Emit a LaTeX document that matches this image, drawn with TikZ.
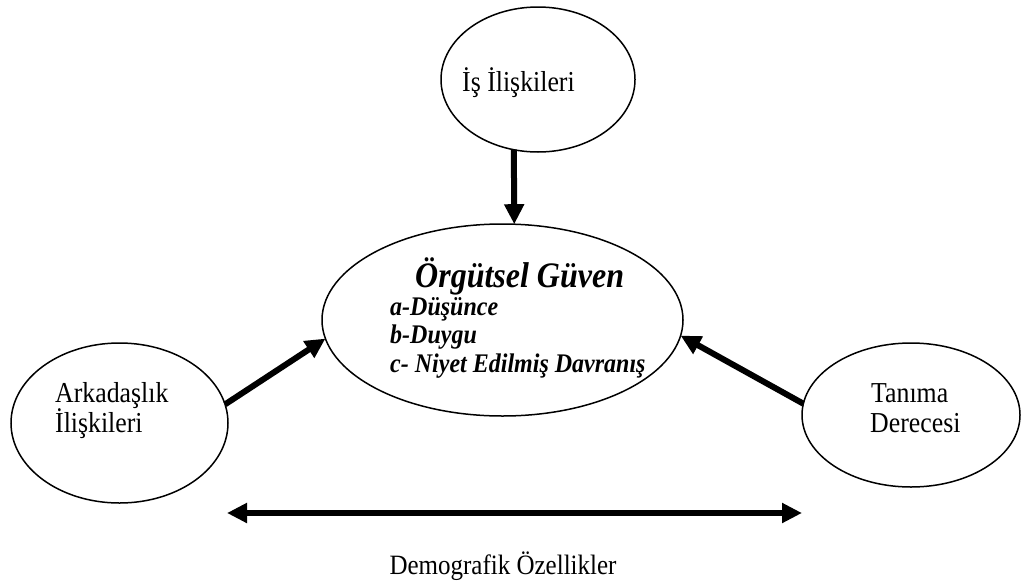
\documentclass[tikz,border=0pt]{standalone}
\usepackage{fontspec}
\setmainfont{Liberation Serif}
\usetikzlibrary{shapes.geometric,arrows.meta}
\newcommand{\tallx}[1]{\scalebox{1}[1.12]{#1}}
\begin{document}
\begin{tikzpicture}[x=1pt,y=-1pt,
  oval/.style={ellipse, draw, line width=1.5pt, inner sep=0pt, outer sep=0pt},
  bigarrow/.style={line width=6pt, -{Triangle[length=20pt,width=19pt]}},
  lbl/.style={font=\fontsize{25.8}{30}\selectfont, inner sep=0pt, anchor=base west},
  item/.style={font=\fontsize{24}{28}\selectfont\bfseries\itshape, inner sep=0pt, anchor=base west}]
\useasboundingbox (0,0) rectangle (1024,581);
% ellipses
\node[oval, minimum width=194pt, minimum height=145pt] (is) at (538,79.5) {};
\node[oval, minimum width=361pt, minimum height=192pt] (og) at (502.5,320) {};
\node[oval, minimum width=217pt, minimum height=160pt] (ark) at (119.5,423) {};
\node[oval, minimum width=218pt, minimum height=144pt] (tan) at (911,415) {};
% texts
\node[lbl] (ist) at (462,91) {\tallx{İş İlişkileri}};
\node[font=\fontsize{32}{36}\selectfont\bfseries\itshape, inner sep=0pt, anchor=base west] (ogt) at (415,287) {\tallx{Örgütsel Güven}};
\node[item] (ia) at (390,315) {\tallx{a-Düşünce}};
\node[item] (ib) at (390,343) {\tallx{b-Duygu}};
\node[item] (ic) at (390,372) {\tallx{c- Niyet Edilmiş Davranış}};
\node[lbl] (ark1) at (55,402) {\tallx{Arkadaşlık}};
\node[lbl] (ark2) at (55,432) {\tallx{İlişkileri}};
\node[lbl] (tan1) at (871,402) {\tallx{Tanıma}};
\node[lbl] (tan2) at (870,432) {\tallx{Derecesi}};
\node[font=\fontsize{25}{30}\selectfont, inner sep=0pt, anchor=base] (dem) at (503,574) {\tallx{Demografik Özellikler}};
% connectors
\draw[bigarrow] (is.251.7) -- (og.83.3);
\draw[bigarrow] (ark.10.4) -- (og.186.9);
\draw[bigarrow] (tan.174.2) -- (og.355);
\coordinate (dl) at (227,513);
\coordinate (dr) at (802,513);
\draw[line width=6pt, {Triangle[length=20pt,width=19pt]}-{Triangle[length=20pt,width=19pt]}] (dl) -- (dr);
\end{tikzpicture}
\end{document}
